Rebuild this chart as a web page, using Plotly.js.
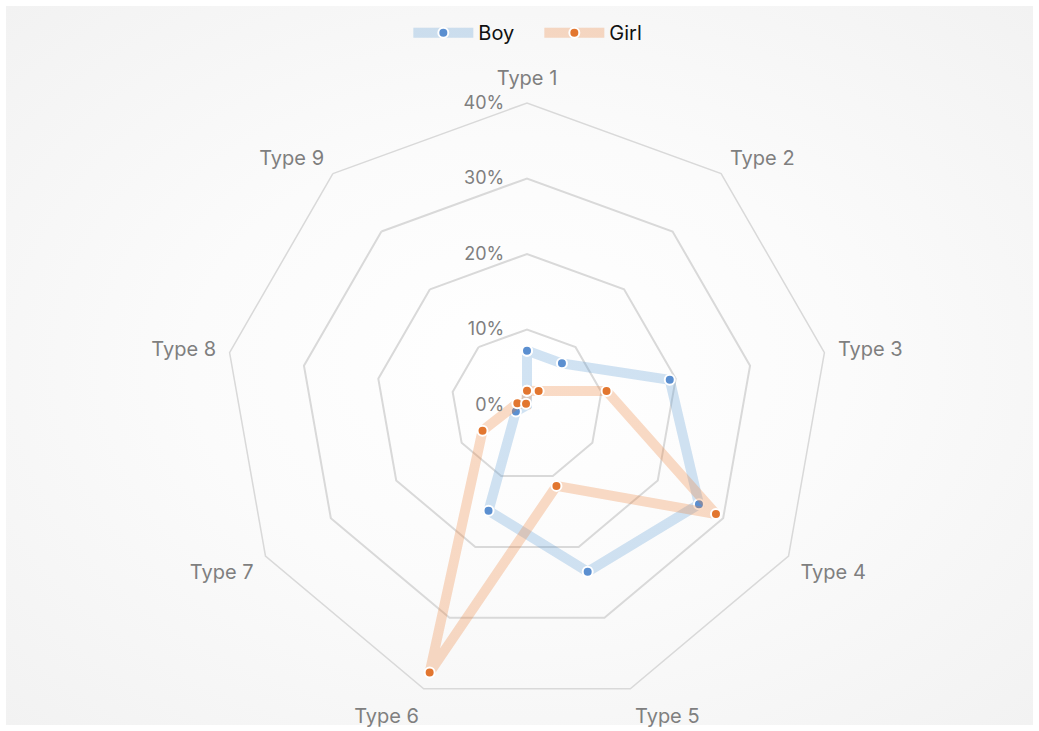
<!DOCTYPE html>
<html>
<head>
<meta charset="utf-8">
<script src="https://cdn.plot.ly/plotly-3.0.1.min.js"></script>
<style>
  html, body { margin: 0; padding: 0; background: #ffffff; }
  #frame {
    position: absolute; left: 6px; top: 6px; width: 1027px; height: 719px;
    background: radial-gradient(ellipse at 50% 50%, #ffffff 0%, #fbfbfb 45%, #f2f2f2 100%);
  }
  #chart { position: absolute; left: 0; top: 0; width: 1039px; height: 731px; }
</style>
</head>
<body>
<div id="frame"></div>
<div id="chart"></div>
<script>
const categories = ["Type 1", "Type 2", "Type 3", "Type 4", "Type 5", "Type 6", "Type 7", "Type 8", "Type 9"];
const boyValues  = [7.2, 7.2, 19.2, 26.3, 23.5, 14.9, 1.7, 0, 0];
const girlValues = [1.9, 2.4, 10.7, 28.9, 11.4, 37.7, 6.8, 1.3, 0.2];
const radialTicks = [0, 10, 20, 30, 40];
const radialTickLabels = ["0%", "10%", "20%", "30%", "40%"];

function closed(arr) { return arr.concat([arr[0]]); }

const traces = [
  {
    type: "scatterpolar", name: "Boy", mode: "lines+markers",
    r: closed(boyValues), theta: closed(categories),
    line: { color: "rgba(91,155,213,0.28)", width: 10 },
    marker: { color: "#5B8FD0", size: 10, line: { color: "#ffffff", width: 2 } },
    hoverinfo: "r+theta+name"
  },
  {
    type: "scatterpolar", name: "Girl", mode: "lines+markers",
    r: closed(girlValues), theta: closed(categories),
    line: { color: "rgba(237,125,49,0.28)", width: 10 },
    marker: { color: "#E2762F", size: 10, line: { color: "#ffffff", width: 2 } },
    hoverinfo: "r+theta+name"
  }
];

const layout = {
  width: 1039, height: 731,
  margin: { l: 0, r: 0, t: 0, b: 0 },
  paper_bgcolor: "rgba(0,0,0,0)",
  plot_bgcolor: "rgba(0,0,0,0)",
  font: { family: "Inter, 'Open Sans', sans-serif", color: "#7f7f7f", size: 18 },
  showlegend: true,
  legend: {
    orientation: "h", x: 0.393, xanchor: "left", y: 0.982, yanchor: "top",
    font: { color: "#111111", size: 20 }, bgcolor: "rgba(0,0,0,0)",
    itemwidth: 60, entrywidth: 56
  },
  polar: {
    domain: { x: [225/1039, 829/1039], y: [24/731, 628/731] },
    bgcolor: "rgba(0,0,0,0)",
    gridshape: "linear",
    radialaxis: {
      range: [0, 40], angle: 90, tickangle: 90,
      tickvals: radialTicks, ticktext: radialTickLabels,
      showline: false, showgrid: true, gridcolor: "#d9d9d9", gridwidth: 1.5,
      ticks: "outside", ticklen: 16, tickcolor: "rgba(0,0,0,0)",
      side: "counterclockwise",
      tickfont: { size: 18, color: "#7f7f7f" }
    },
    angularaxis: {
      rotation: 90, direction: "clockwise",
      showgrid: false, showline: true, linecolor: "#d9d9d9", linewidth: 1.5,
      ticks: "outside", ticklen: 9, tickcolor: "rgba(0,0,0,0)",
      tickfont: { size: 20, color: "#7f7f7f" }
    }
  }
};

Plotly.newPlot("chart", traces, layout, { displayModeBar: false });
</script>
</body>
</html>
